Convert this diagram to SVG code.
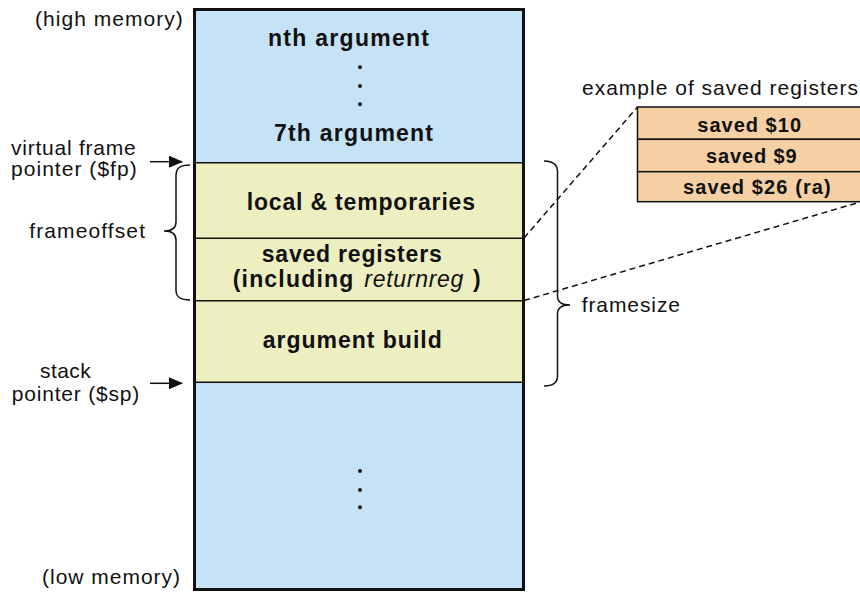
<svg xmlns="http://www.w3.org/2000/svg" width="860" height="592" viewBox="0 0 860 592">
<style>
.lbl{font-family:"Liberation Sans",Arial,sans-serif;font-size:21px;fill:#111}
.b{font-family:"Liberation Sans",Arial,sans-serif;font-size:23px;font-weight:bold;fill:#111}
.ob{font-family:"Liberation Sans",Arial,sans-serif;font-size:20px;font-weight:bold;fill:#111}
.it{font-weight:normal;font-style:italic}
.sep{stroke:#111;stroke-width:1.5;fill:none}
.brace{stroke:#111;stroke-width:1.5;fill:none}
.dash{stroke:#111;stroke-width:1.5;fill:none;stroke-dasharray:6 4}
.arr{stroke:#111;stroke-width:1.5;fill:none}
</style>
<defs>
<marker id="ah" viewBox="0 0 14 12" refX="13" refY="6" markerWidth="14" markerHeight="12" markerUnits="userSpaceOnUse" orient="auto">
<path d="M0,0 L14,6 L0,12 Z" fill="#111"/>
</marker>
</defs>
<rect width="860" height="592" fill="#fff"/>

<g id="stack">
<rect x="194.5" y="9.5" width="329" height="580" fill="#c6e2f7"/>
<rect x="194.5" y="162.7" width="329" height="219.6" fill="#eeefc1"/>
<line class="sep" x1="194" y1="162.7" x2="524" y2="162.7"/>
<line class="sep" x1="194" y1="238.3" x2="524" y2="238.3"/>
<line class="sep" x1="194" y1="300.7" x2="524" y2="300.7"/>
<line class="sep" x1="194" y1="382.3" x2="524" y2="382.3"/>
<rect x="194.5" y="9.5" width="329" height="580" fill="none" stroke="#111" stroke-width="3"/>
</g>

<g id="args">
<text class="b" x="268" y="46" textLength="161" lengthAdjust="spacing">nth argument</text>
<circle cx="360" cy="67.3" r="2" fill="#111"/>
<circle cx="360" cy="86" r="2" fill="#111"/>
<circle cx="360" cy="104.3" r="2" fill="#111"/>
<text class="b" x="274" y="140.7" textLength="159" lengthAdjust="spacing">7th argument</text>
</g>

<g id="locals">
<text class="b" x="246.7" y="210" textLength="228.3" lengthAdjust="spacing">local &amp; temporaries</text>
</g>

<g id="savedregs">
<text class="b" x="261.7" y="261.7" textLength="180" lengthAdjust="spacing">saved registers</text>
<text class="b" y="286.7"><tspan x="232.7" textLength="120.6" lengthAdjust="spacing">(including</tspan><tspan class="it" x="364.3" textLength="99" lengthAdjust="spacing">returnreg</tspan><tspan x="473" textLength="8.7" lengthAdjust="spacing">)</tspan></text>
</g>

<g id="argbuild">
<text class="b" x="262.7" y="348.3" textLength="179" lengthAdjust="spacing">argument build</text>
</g>

<g id="lowdots">
<circle cx="360" cy="471" r="2" fill="#111"/>
<circle cx="360" cy="490" r="2" fill="#111"/>
<circle cx="360" cy="507.3" r="2" fill="#111"/>
</g>

<g id="leftlabels">
<text class="lbl" x="35" y="25.7" textLength="147.7" lengthAdjust="spacing">(high memory)</text>
<text class="lbl" x="11" y="155.3" textLength="124.7" lengthAdjust="spacing">virtual frame</text>
<text class="lbl" x="11" y="175.7" textLength="125.7" lengthAdjust="spacing">pointer ($fp)</text>
<text class="lbl" x="29.3" y="238.3" textLength="115.7" lengthAdjust="spacing">frameoffset</text>
<text class="lbl" x="40" y="377.5" textLength="50.7" lengthAdjust="spacing">stack</text>
<text class="lbl" x="11.7" y="400.5" textLength="127.6" lengthAdjust="spacing">pointer ($sp)</text>
<text class="lbl" x="42" y="584" textLength="138" lengthAdjust="spacing">(low memory)</text>
</g>

<g id="framesize">
<text class="lbl" x="581.7" y="311.7" textLength="98.3" lengthAdjust="spacing">framesize</text>
</g>

<g id="example">
<text class="lbl" x="582" y="95" textLength="276" lengthAdjust="spacing">example of saved registers</text>
<rect x="637.5" y="107" width="230" height="32.3" fill="#f4d0a4" stroke="#111" stroke-width="1.5"/>
<rect x="637.5" y="139.3" width="230" height="32.4" fill="#f4d0a4" stroke="#111" stroke-width="1.5"/>
<rect x="637.5" y="171.7" width="230" height="30" fill="#f4d0a4" stroke="#111" stroke-width="1.5"/>
<text class="ob" x="697.3" y="131.7" textLength="103.7" lengthAdjust="spacing">saved $10</text>
<text class="ob" x="706" y="163.3" textLength="90.7" lengthAdjust="spacing">saved $9</text>
<text class="ob" x="683" y="194" textLength="147.7" lengthAdjust="spacing">saved $26 (ra)</text>
</g>

<g id="connectors">
<line class="arr" x1="150" y1="161.7" x2="182" y2="161.7" marker-end="url(#ah)"/>
<line class="arr" x1="150" y1="383.3" x2="182" y2="383.3" marker-end="url(#ah)"/>
<path class="brace" d="M190,165 C180,165 176,168 176,176 L176,222 C176,228 172,231 164,231 C172,231 176,234 176,240 L176,290 C176,297 180,300 190,300"/>
<path class="brace" d="M544,161 C553,161 557.5,164 557.5,172 L557.5,296 C557.5,302 561,305 570,305 C561,305 557.5,308 557.5,314 L557.5,376 C557.5,383 553,386 544,386"/>
<line class="dash" x1="524" y1="238" x2="637.5" y2="107"/>
<line class="dash" x1="524" y1="300.5" x2="862" y2="201.5"/>
</g>
</svg>
